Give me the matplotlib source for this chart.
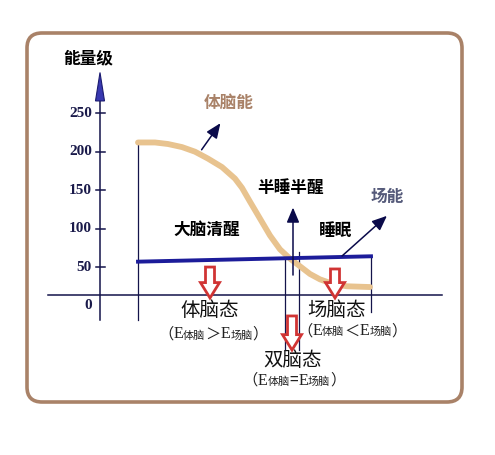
import matplotlib.pyplot as plt
from matplotlib.patches import FancyBboxPatch, FancyArrow, Polygon
from matplotlib.offsetbox import TextArea, HPacker, AnnotationBbox

plt.rcParams['font.family'] = ['Noto Sans CJK SC', 'DejaVu Sans']

# 体脑能 曲线 (横向位置, 能量级)
stage_x = [138, 155, 168, 182, 195, 208, 222, 235, 242, 250, 260, 270, 280,
           290, 300, 310, 320, 333, 347, 370]
body_energy = [212, 212, 210, 206, 200, 191, 180, 165, 153, 135, 113, 91, 73,
               61, 51, 41, 34, 28, 25, 24]

# 场能 直线
field_x = [138, 371]
field_energy = [57, 64]

# 纵轴刻度
tick_values = [250, 200, 150, 100, 50]
tick_labels = ['250', '200', '150', '100', '50']

px_per_unit = 0.769
zero_row = 305.5
W, H = 495, 455

fig = plt.figure(figsize=(W / 100, H / 100), dpi=100)
ax = fig.add_axes([0, 0, 1, 1])
ax.set_xlim(0, W)
ax.set_ylim((zero_row - H) / px_per_unit, zero_row / px_per_unit)
ax.axis('off')
ax.patch.set_visible(False)

# 圆角外框
frame = FancyBboxPatch((0.27, 0.53), 4.35, 3.69, boxstyle="round,pad=0,rounding_size=0.15",
                       transform=fig.dpi_scale_trans, facecolor='white',
                       edgecolor='#a98268', linewidth=2.6, zorder=-1)
fig.add_artist(frame)

navy = '#14144a'
# 坐标轴
ax.plot([100, 100], [-19, 285], color=navy, lw=1.1)
ax.plot([48, 442], [13.7, 13.7], color=navy, lw=1.1)
ax.add_patch(Polygon([[95.5, 266], [104.5, 266], [100, 303]], closed=True,
                     facecolor='#3838b0', edgecolor='#1a1a70', lw=0.8, zorder=3))
for val, lab in zip(tick_values, tick_labels):
    ax.plot([96, 105], [val, val], color=navy, lw=1.1)
    ax.text(92, val, lab, ha='right', va='center', fontsize=11, color='#1a1a4a',
            family='Liberation Serif', fontweight='bold')
ax.text(92, 0, '0', ha='right', va='center', fontsize=11, color='#1a1a4a',
        family='Liberation Serif', fontweight='bold')
ax.text(88, 322, '能量级', ha='center', va='center', fontsize=12, fontweight='bold', color='black')

# 竖线
ax.plot([138, 138], [-19, body_energy[0]], color=navy, lw=0.9)
ax.plot([371, 371], [-8.5, field_energy[1]], color=navy, lw=0.9)
ax.plot([285, 285], [-58, 69.6], color=navy, lw=0.9)
ax.plot([299, 299], [-58, 69.6], color=navy, lw=0.9)

# 曲线和直线
ax.plot(stage_x, body_energy, color='#e8c38f', lw=4.2, solid_capstyle='round', zorder=2)
ax.plot(field_x, field_energy, color='#1c1c9a', lw=2.8, zorder=3)

# 指示箭头
arrow_kw = dict(arrowstyle='-|>,head_length=0.9,head_width=0.38', color='#0a0a4a', lw=1.1)
ax.annotate('', xy=(222, 240), xytext=(200, 199.6), arrowprops=arrow_kw)
ax.annotate('', xy=(389, 119), xytext=(340, 62), arrowprops=arrow_kw)
ax.annotate('', xy=(293, 131), xytext=(293, 36), arrowprops=arrow_kw)

# 红色空心箭头
for cx, top, bottom in [(210, 50, 9.8), (335, 47.5, 9.8), (292, -13.6, -57.9)]:
    ax.add_patch(FancyArrow(cx, top, 0, bottom - top, width=9, head_width=19,
                            head_length=20, length_includes_head=True,
                            facecolor='white', edgecolor='#d03434', lw=2.0, zorder=4))

# 文字
bold = dict(fontsize=12, fontweight='bold', ha='center', va='center')
ax.text(229, 263, '体脑能', color='#a98268', **bold)
ax.text(290, 153, '半睡半醒', color='black', **bold)
ax.text(387, 141, '场能', color='#555a7a', **bold)
ax.text(207, 98, '大脑清醒', color='black', **bold)
ax.text(336, 97, '睡眠', color='black', **bold)

state = dict(fontsize=14, ha='center', va='center', color='#111111')
ax.text(210, -6, '体脑态', **state)
ax.text(337, -6, '场脑态', **state)
ax.text(293, -71, '双脑态', **state)


def energy_relation(x, y, sign):
    big = dict(size=11, color='#222222', family=['Noto Sans CJK SC'])
    e_font = dict(size=11.5, color='#222222', family=['Liberation Serif'])
    small = dict(size=8, color='#222222', family=['Noto Sans CJK SC'])
    parts = [TextArea('（', textprops=big), TextArea('E', textprops=e_font),
             TextArea('体脑', textprops=small), TextArea(sign, textprops=big),
             TextArea('E', textprops=e_font), TextArea('场脑', textprops=small),
             TextArea('）', textprops=big)]
    box = HPacker(children=parts, align='baseline', pad=0, sep=0)
    ax.add_artist(AnnotationBbox(box, (x, y), frameon=False, box_alignment=(0.5, 0.5), pad=0))


energy_relation(213, -37, '＞')
energy_relation(352, -33, '＜')
energy_relation(294, -97, '=')

fig.savefig('out.png', dpi=100)
